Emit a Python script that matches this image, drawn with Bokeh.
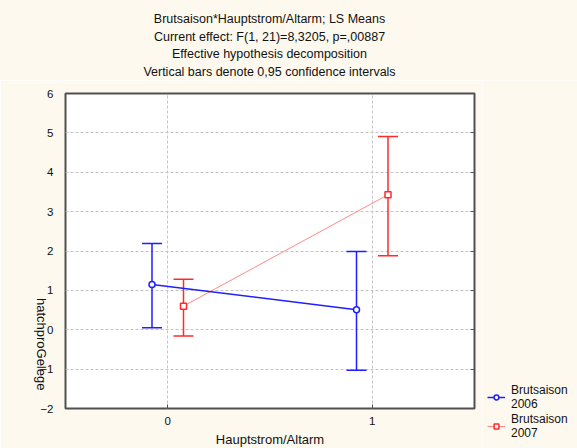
import math
from bokeh.plotting import figure
from bokeh.layouts import column, row
from bokeh.models import (ColumnDataSource, Whisker, TeeHead, Legend, LegendItem, Div,
                          FixedTicker, LinearAxis, Range1d, CustomJSTickFormatter)
from bokeh.transform import dodge
from bokeh.embed import file_html
from bokeh.resources import INLINE

# ---- data ----
titles = ["Brutsaison*Hauptstrom/Altarm; LS Means",
          "Current effect: F(1, 21)=8,3205, p=,00887",
          "Effective hypothesis decomposition",
          "Vertical bars denote 0,95 confidence intervals"]
x_label = "Hauptstrom/Altarm"
y_label = "hatchproGelege"
categories = [0, 1]
series_names = ["Brutsaison\n2006", "Brutsaison\n2007"]
mean_2006 = [1.15, 0.51]
lower_2006 = [0.05, -1.03]
upper_2006 = [2.19, 1.99]
mean_2007 = [0.60, 3.43]
lower_2007 = [-0.16, 1.88]
upper_2007 = [1.28, 4.91]
y_ticks = [-2, -1, 0, 1, 2, 3, 4, 5, 6]
x_ticks = [0, 1]

FONT = "Liberation Sans"
CREAM = "#FEF9EE"
TXT = "#111111"
BLUE = "#1f1fff"
RED = "#ff2a2a"
PINK = "#ff8a8a"
HEAD_H = 80
LEG_W = 95

# heading block (centred over the plot frame)
head_html = ("<div style=\"width:539px;text-align:center;font-family:'Liberation Sans',Arial,sans-serif;"
             "font-size:12.5px;line-height:17.5px;padding-top:11px;color:%s;margin:0\">%s</div>"
             % (TXT, "<br>".join(titles)))
head = Div(text=head_html, width=577, height=HEAD_H,
           styles={"background-color": CREAM, "margin": "0", "padding": "0"})

p = figure(output_backend="svg", toolbar_location=None,
           frame_width=409, frame_height=315,
           x_range=Range1d(-0.5, 1.5), y_range=Range1d(-2, 6),
           min_border_left=65, min_border_top=93 - HEAD_H,
           min_border_right=577 - 65 - 409 - LEG_W, min_border_bottom=40)
p.background_fill_color = "white"
p.border_fill_color = CREAM
p.outline_line_color = "#505050"
p.outline_line_width = 2

# axes
p.xaxis.ticker = FixedTicker(ticks=x_ticks)
p.yaxis.ticker = FixedTicker(ticks=y_ticks)
for ax in (p.xaxis[0], p.yaxis[0]):
    ax.axis_line_color = None
    ax.major_tick_out = 0
    ax.major_tick_in = 0
    ax.minor_tick_out = 0
    ax.minor_tick_in = 0
    ax.major_label_text_font = FONT
    ax.major_label_text_font_size = "11.5px"
    ax.major_label_text_color = TXT
    ax.axis_label_text_font = FONT
    ax.axis_label_text_font_size = "13px"
    ax.axis_label_text_font_style = "normal"
    ax.axis_label_text_color = TXT
p.xaxis.major_label_standoff = 8
p.yaxis.major_label_standoff = 12
p.xaxis.major_tick_in = 4
p.xaxis.major_tick_line_color = "#505050"
p.xaxis.axis_label = x_label
p.xaxis.axis_label_standoff = 4
p.yaxis.axis_label = y_label + "\u00a0" * 5
p.yaxis.axis_label_standoff = -4
p.yaxis.axis_label_orientation = -math.pi / 2
p.yaxis.axis_label_align = "start"

ra = LinearAxis(ticker=FixedTicker(ticks=y_ticks))
ra.axis_line_color = None
ra.major_tick_in = 4
ra.major_tick_out = 0
ra.minor_tick_in = 0
ra.minor_tick_out = 0
ra.major_tick_line_color = "#505050"
ra.formatter = CustomJSTickFormatter(code="return ''")
ra.major_label_standoff = 0
p.add_layout(ra, "right")

p.xgrid.ticker = FixedTicker(ticks=x_ticks)
p.ygrid.ticker = FixedTicker(ticks=y_ticks)
for g in (p.xgrid[0], p.ygrid[0]):
    g.grid_line_color = "#c4c4c4"
    g.grid_line_dash = "3 2"
    g.grid_line_width = 1

# data sources
s06 = ColumnDataSource(dict(x=categories, m=mean_2006, lo=lower_2006, hi=upper_2006))
s07 = ColumnDataSource(dict(x=categories, m=mean_2007, lo=lower_2007, hi=upper_2007))
OFF = 0.077

p.line(x=dodge("x", OFF, range=p.x_range), y="m", source=s07, line_color=PINK, line_width=1)
p.line(x=dodge("x", -OFF, range=p.x_range), y="m", source=s06, line_color=BLUE, line_width=1.5)

for src, col, off in ((s06, BLUE, -OFF), (s07, RED, OFF)):
    w = Whisker(source=src, base=dodge("x", off, range=p.x_range), upper="hi", lower="lo",
                line_color=col, line_width=1.5,
                upper_head=TeeHead(size=20, line_color=col, line_width=1.5),
                lower_head=TeeHead(size=20, line_color=col, line_width=1.5))
    p.add_layout(w)

p.scatter(x=dodge("x", -OFF, range=p.x_range), y="m", source=s06, marker="circle", size=6,
          line_color=BLUE, fill_color="white", line_width=1.5)
p.scatter(x=dodge("x", OFF, range=p.x_range), y="m", source=s07, marker="square", size=6,
          line_color=RED, fill_color="white", line_width=1.5)

# ---- legend panel to the right of the plot (its ranges keep the series out of view) ----
lf = figure(output_backend="svg", toolbar_location=None, width=LEG_W, height=448 - HEAD_H,
            x_range=Range1d(10, 11), y_range=Range1d(10, 11),
            x_axis_type=None, y_axis_type=None,
            min_border_left=0, min_border_right=0, min_border_top=0, min_border_bottom=0)
lf.grid.visible = False
lf.outline_line_color = None
lf.background_fill_color = CREAM
lf.border_fill_color = CREAM

# let the legend panel use its full height if frames can be un-aligned
unaligned = False
if "frame_align" in lf.properties():
    lf.frame_align = False
    unaligned = True
leg_y = 8 if unaligned else 0

items = []
for name, src, col, lcol, lw, mk in ((series_names[0], s06, BLUE, BLUE, 1.5, "circle"),
                                      (series_names[1], s07, RED, PINK, 1, "square")):
    r_line = lf.line(x="x", y="m", source=src, line_color=lcol, line_width=lw)
    r_bar = lf.scatter(x="x", y="m", source=src, marker="dash", angle=math.pi / 2, size=13,
                       line_color=col, line_width=1.5)
    r_mk = lf.scatter(x="x", y="m", source=src, marker=mk, size=6, line_color=col,
                      fill_color="white", line_width=1.5)
    items.append(LegendItem(label=name, renderers=[r_line, r_bar, r_mk]))

legend = Legend(items=items, location=(5, leg_y), orientation="vertical",
                background_fill_alpha=0, border_line_color=None,
                label_text_font=FONT, label_text_font_size="12px", label_text_color=TXT,
                label_text_line_height=1.0,
                glyph_width=18, glyph_height=12, label_standoff=6,
                padding=0, margin=0, spacing=1, label_height=12)
lf.add_layout(legend, "center")

page = column(head, row(p, lf, spacing=0), spacing=0)
open("out.html", "w").write(file_html(page, INLINE))
